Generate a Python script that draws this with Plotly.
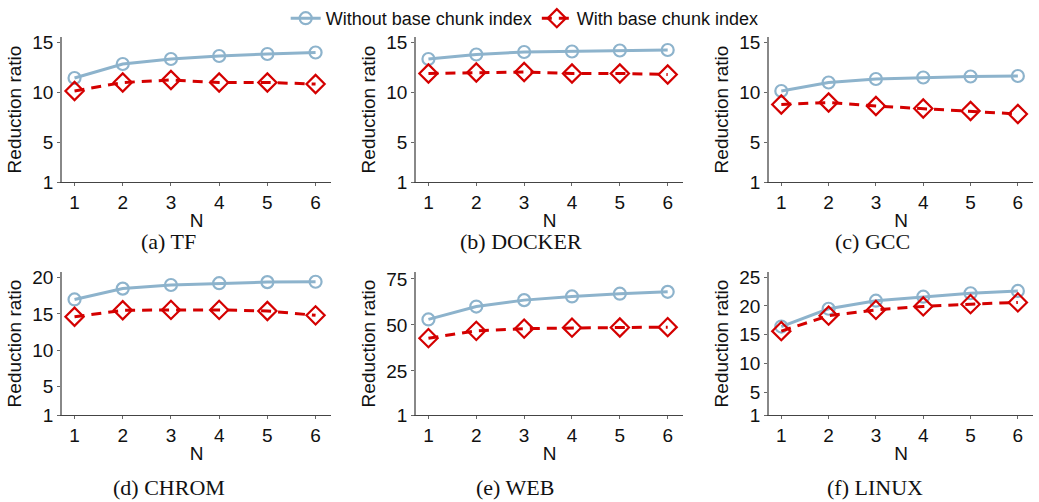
import plotly.graph_objects as go

N = [1, 2, 3, 4, 5, 6]
datasets = ["TF", "DOCKER", "GCC", "CHROM", "WEB", "LINUX"]
captions = ["(a) TF", "(b) DOCKER", "(c) GCC", "(d) CHROM", "(e) WEB", "(f) LINUX"]

without_idx = {
    "TF":     [11.4, 12.8, 13.3, 13.6, 13.8, 13.95],
    "DOCKER": [13.3, 13.75, 14.0, 14.05, 14.15, 14.2],
    "GCC":    [10.1, 10.95, 11.3, 11.45, 11.55, 11.6],
    "CHROM":  [17.0, 18.5, 19.0, 19.25, 19.4, 19.45],
    "WEB":    [53.0, 60.0, 63.5, 65.5, 67.0, 68.0],
    "LINUX":  [16.4, 19.5, 20.9, 21.6, 22.2, 22.6],
}
with_idx = {
    "TF":     [10.1, 10.95, 11.2, 10.95, 10.95, 10.8],
    "DOCKER": [11.85, 11.95, 12.0, 11.85, 11.85, 11.75],
    "GCC":    [8.75, 8.95, 8.6, 8.35, 8.1, 7.8],
    "CHROM":  [14.6, 15.5, 15.55, 15.55, 15.4, 14.8],
    "WEB":    [42.8, 46.8, 48.0, 48.5, 48.6, 48.8],
    "LINUX":  [15.6, 18.3, 19.3, 19.9, 20.3, 20.6],
}
y_ticks = {
    "TF": [1, 5, 10, 15], "DOCKER": [1, 5, 10, 15], "GCC": [1, 5, 10, 15],
    "CHROM": [1, 5, 10, 15, 20], "WEB": [1, 25, 50, 75], "LINUX": [1, 5, 10, 15, 20, 25],
}
y_top = {"TF": 15.5, "DOCKER": 15.5, "GCC": 15.5, "CHROM": 20.8, "WEB": 78.8, "LINUX": 25.9}

W, H = 1039, 502
BLUE = "#8db3cc"
RED = "#d40000"

col_px = [(62, 331), (416, 683), (769, 1033)]
row_px = [(37, 182), (272, 415)]
cap_x = [168, 521, 872, 169, 515, 875]
cap_y = [241, 487]

fig = go.Figure()
layout = dict(
    width=W, height=H, margin=dict(l=0, r=0, t=0, b=0, autoexpand=False),
    plot_bgcolor="white", paper_bgcolor="white",
    font=dict(family="Liberation Sans, Arial, sans-serif", size=19, color="#111"),
    showlegend=True,
    legend=dict(orientation="h", x=0.505, xanchor="center", y=1.0, yanchor="top",
                font=dict(size=18, color="#111"), itemwidth=30, bgcolor="rgba(0,0,0,0)",
                tracegroupgap=0),
)
annotations = []
for i, ds in enumerate(datasets):
    r, c = divmod(i, 3)
    k = "" if i == 0 else str(i + 1)
    x0, x1 = col_px[c]
    y0, y1 = row_px[r]
    layout["xaxis" + k] = dict(
        domain=[x0 / W, x1 / W], anchor="y" + k, range=[0.74, 6.32], automargin=False,
        tickvals=N, ticks="outside", ticklen=3, tickcolor="#666",
        showline=True, linecolor="#444", linewidth=1.2, showgrid=False, zeroline=False,
        tickfont=dict(size=19), title=dict(text="N", font=dict(size=19), standoff=1),
    )
    layout["yaxis" + k] = dict(
        domain=[1 - y1 / H, 1 - y0 / H], anchor="x" + k, range=[1, y_top[ds]], automargin=False,
        tickvals=y_ticks[ds], ticks="outside", ticklen=3, tickcolor="#666",
        showline=True, linecolor="#888", linewidth=1.5, showgrid=False, zeroline=False,
        tickfont=dict(size=19), title=dict(text="Reduction ratio", font=dict(size=19), standoff=6),
    )
    fig.add_trace(go.Scatter(
        x=N, y=without_idx[ds], xaxis="x" + k, yaxis="y" + k, mode="lines+markers",
        name="Without base chunk index", legendgroup="wo", showlegend=(i == 0),
        line=dict(color=BLUE, width=3),
        marker=dict(symbol="circle-open", size=12, color=BLUE, line=dict(width=2.2, color=BLUE)),
        cliponaxis=False,
    ))
    fig.add_trace(go.Scatter(
        x=N, y=with_idx[ds], xaxis="x" + k, yaxis="y" + k, mode="lines+markers",
        name="With base chunk index", legendgroup="w", showlegend=(i == 0),
        line=dict(color=RED, width=3, dash="10px,7px"),
        marker=dict(symbol="diamond-open", size=14, color=RED, line=dict(width=2.2, color=RED)),
        cliponaxis=False,
    ))
    annotations.append(dict(
        text=captions[i], x=cap_x[i] / W, y=1 - cap_y[r] / H, xref="paper", yref="paper",
        xanchor="center", yanchor="middle", showarrow=False,
        font=dict(family="Liberation Serif, Times New Roman, serif", size=22, color="#111"),
    ))
layout["annotations"] = annotations
fig.update_layout(**layout)
fig.write_html("out.html", config={"displayModeBar": False},
               post_script="document.body.style.margin='0';document.body.style.overflow='hidden';")
